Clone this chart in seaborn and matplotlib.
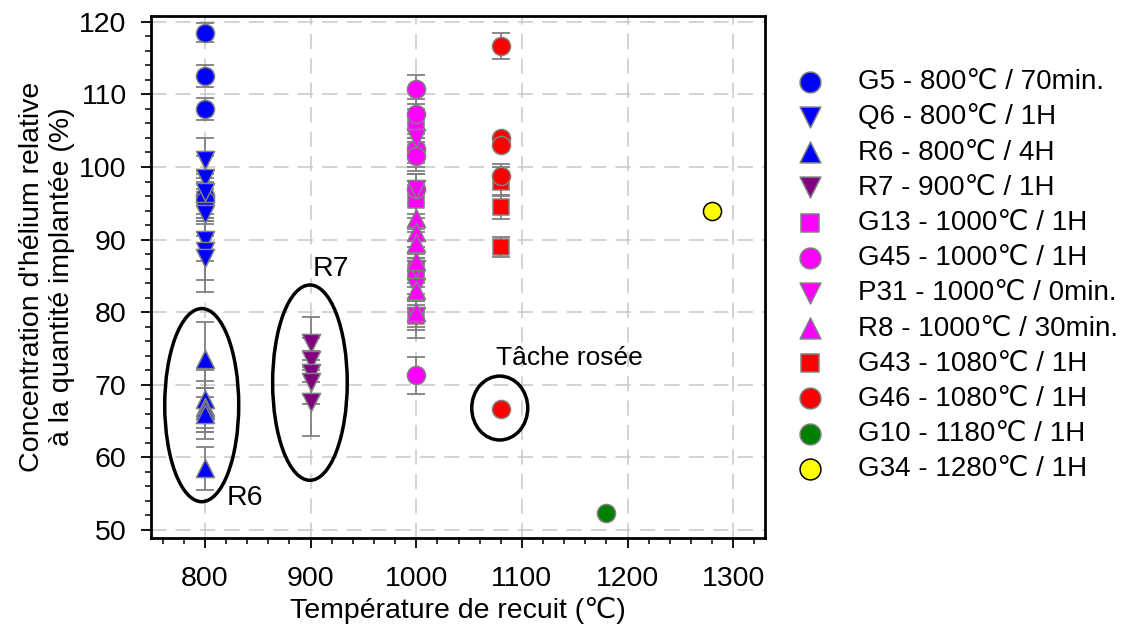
import numpy as np
import pandas as pd
import matplotlib
matplotlib.use("Agg")
import matplotlib.pyplot as plt
import seaborn as sns
from matplotlib.patches import Ellipse
from matplotlib.ticker import MultipleLocator

# ---------------- data ----------------
labels = ["G5 - 800℃ / 70min.", "Q6 - 800℃ / 1H", "R6 - 800℃ / 4H", "R7 - 900℃ / 1H",
          "G13 - 1000℃ / 1H", "G45 - 1000℃ / 1H", "P31 - 1000℃ / 0min.", "R8 - 1000℃ / 30min.",
          "G43 - 1080℃ / 1H", "G46 - 1080℃ / 1H", "G10 - 1180℃ / 1H", "G34 - 1280℃ / 1H"]
temps = [800, 800, 800, 900, 1000, 1000, 1000, 1000, 1080, 1080, 1180, 1280]
colors = ["#0000FF", "#0000FF", "#0000FF", "#800080", "#FF00FF", "#FF00FF", "#FF00FF", "#FF00FF",
          "#FF0000", "#FF0000", "#008000", "#FFFF00"]
markers = ["o", "v", "^", "v", "s", "o", "v", "^", "s", "o", "o", "o"]

g5_vals = [118.5, 112.5, 108.0, 96.0, 95.5]
g5_err = [1.3, 1.5, 1.5, 3.0, 3.0]
q6_vals = [101.0, 98.5, 96.5, 94.0, 93.5, 90.0, 88.5, 87.5]
q6_err = [3.0, 3.0, 3.0, 3.0, 3.0, 3.0, 4.0, 4.7]
r6_vals = [73.5, 68.0, 67.0, 66.5, 66.0, 58.5]
r6_err = [5.2, 4.0, 3.5, 3.0, 3.5, 3.0]
r7_vals = [75.7, 73.4, 71.6, 70.4, 67.7]
r7_err = [3.7, 3.0, 3.0, 3.0, 4.8]
g13_vals = [106.0, 102.0, 95.5, 85.5, 79.5]
g13_err = [2.0, 2.0, 2.0, 2.0, 2.0]
g45_vals = [110.7, 107.3, 102.5, 101.5, 97.0, 71.3]
g45_err = [2.0, 2.0, 2.0, 2.0, 2.0, 2.5]
p31_vals = [104.0, 97.0, 86.0, 83.5, 79.5]
p31_err = [2.0, 2.0, 2.0, 2.0, 3.0]
r8_vals = [93.0, 91.0, 89.5, 87.0, 83.0, 80.0]
r8_err = [2.0, 2.0, 2.0, 2.0, 2.0, 2.0]
g43_vals = [98.0, 94.5, 89.0]
g43_err = [2.0, 1.7, 1.4]
g46_vals = [116.7, 104.0, 103.0, 98.7, 66.7]
g46_err = [1.8, 0.0, 0.0, 1.7, 0.0]
g10_vals = [52.3]
g10_err = [0.0]
g34_vals = [93.9]
g34_err = [0.0]

all_vals = [g5_vals, q6_vals, r6_vals, r7_vals, g13_vals, g45_vals, p31_vals, r8_vals,
            g43_vals, g46_vals, g10_vals, g34_vals]
all_errs = [g5_err, q6_err, r6_err, r7_err, g13_err, g45_err, p31_err, r8_err,
            g43_err, g46_err, g10_err, g34_err]

rows = []
for lab, t, vals, errs in zip(labels, temps, all_vals, all_errs):
    for v, e in zip(vals, errs):
        rows.append({"series": lab, "temp": t, "value": v, "err": e})
df = pd.DataFrame(rows)

# ---------------- style ----------------
sns.set_style("ticks")
plt.rcParams["font.family"] = ["Liberation Sans", "DejaVu Sans"]
plt.rcParams["font.size"] = 20.5
plt.rcParams["text.color"] = "black"
plt.rcParams["axes.labelcolor"] = "black"
plt.rcParams["xtick.color"] = "black"
plt.rcParams["ytick.color"] = "black"

FS = 20.5
LFS = 20

fig = plt.figure(figsize=(11.23, 6.32), dpi=100)
ax = fig.add_axes([151 / 1123, 1 - 538 / 632, (765 - 151) / 1123, (538 - 16) / 632])

# error bars
for lab in labels:
    sub = df[df["series"] == lab]
    sub = sub[sub["err"] > 0]
    if len(sub):
        ax.errorbar(sub["temp"], sub["value"], yerr=sub["err"], fmt="none",
                    ecolor="#808080", elinewidth=1.3, capsize=6.5, capthick=1.3, zorder=2)

# markers
for lab, c, m in zip(labels, colors, markers):
    sub = df[df["series"] == lab]
    size = 130 if m == "s" else 170
    ec = "black" if c == "#FFFF00" else "#808080"
    sns.scatterplot(data=sub, x="temp", y="value", color=c, marker=m, s=size,
                    edgecolor=ec, linewidth=1.1, label=lab, ax=ax, zorder=3)

ax.set_xlim(749, 1330)
ax.set_ylim(48.9, 120.8)
ax.xaxis.set_major_locator(MultipleLocator(100))
ax.xaxis.set_minor_locator(MultipleLocator(20))
ax.yaxis.set_major_locator(MultipleLocator(10))
ax.yaxis.set_minor_locator(MultipleLocator(2))
ax.tick_params(which="major", length=7, width=1.3, labelsize=FS, colors="black", pad=10.5)
ax.tick_params(axis="x", which="major", pad=13.5)
ax.tick_params(which="minor", length=4, width=1.1, colors="black")
ax.grid(True, which="major", color="#C8C8C8", linestyle=(0, (10, 6)), linewidth=1.1, zorder=0)
ax.set_axisbelow(True)
for sp in ax.spines.values():
    sp.set_linewidth(2)
    sp.set_color("black")

ax.set_xlabel("Température de recuit (℃)", fontsize=FS, labelpad=3)
ax.set_ylabel("Concentration d'hélium relative\nà la quantité implantée (%)", fontsize=FS, labelpad=3)

# annotations
for (cx, cy, w, h) in [(797, 67.2, 70, 26.6), (899.4, 70.3, 70.6, 26.9), (1079, 66.8, 53, 8.8)]:
    ax.add_patch(Ellipse((cx, cy), w, h, fill=False, edgecolor="black", linewidth=2.5, zorder=4))
ax.text(838, 54.4, "R6", fontsize=FS, ha="center", va="center")
ax.text(919, 86.0, "R7", fontsize=FS, ha="center", va="center")
ax.text(1145, 73.7, "Tâche rosée", fontsize=19, ha="center", va="center")

leg = ax.legend(loc="upper left", bbox_to_anchor=(785 / 1123, 0.908), bbox_transform=fig.transFigure,
                frameon=False, fontsize=LFS, labelspacing=0.33, handletextpad=1.22,
                borderaxespad=0, handlelength=1.0, markerscale=1.15)

fig.savefig("out.png", dpi=100)
